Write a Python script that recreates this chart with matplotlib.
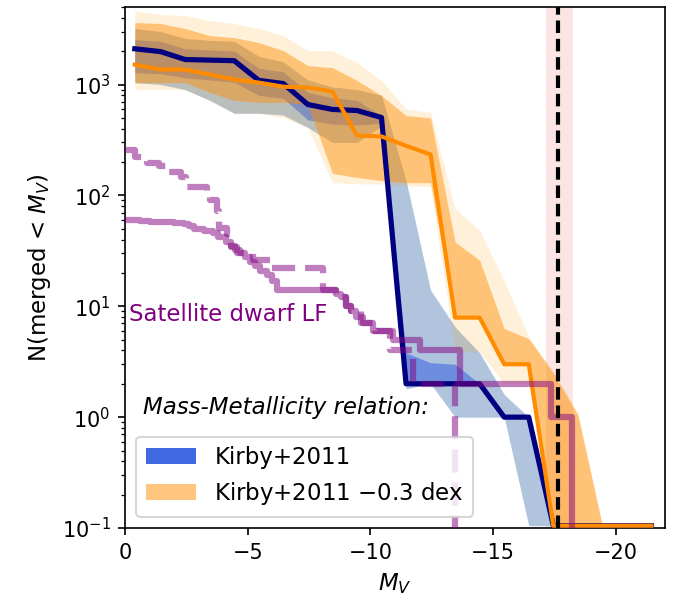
import numpy as np
import matplotlib
matplotlib.use("Agg")
import matplotlib.pyplot as plt
from matplotlib.patches import Patch

# magnitude grid of the merger-tree counts
mv = [-0.4, -1.45, -2.45, -3.45, -4.45, -5.45, -6.45, -7.45, -8.45, -9.45, -10.45,
      -11.45, -12.45, -13.45, -14.45, -15.45, -16.45, -17.45, -18.45, -19.45, -20.45, -21.45]

# Kirby+2011 (median, 68% and 95% ranges)
k11_med = [2100, 1980, 1680, 1660, 1640, 1090, 1020, 660, 596, 583, 504,
           2, 2, 2, 2, 1, 1, 0.105, 0.105, 0.105, 0.105, 0.105]
k11_lo1 = [1280, 1250, 1150, 1100, 1050, 800, 750, 480, 440, 430, 450,
           2, 2, 2, 2, 1, 1, 0.105, 0.105, 0.105, 0.105, 0.105]
k11_hi1 = [2540, 2450, 2100, 2050, 2000, 1400, 1300, 850, 760, 720, 520,
           3.8, 3.1, 3.0, 2, 1, 1, 0.105, 0.105, 0.105, 0.105, 0.105]
k11_lo2 = [1040, 1000, 900, 720, 550, 550, 530, 410, 300, 300, 420,
           1.8, 2, 1, 1, 1, 0.105, 0.105, 0.105, 0.105, 0.105, 0.105]
k11_hi2 = [3200, 3000, 2600, 2500, 2450, 1800, 1600, 1100, 950, 900, 800,
           136, 14, 6.5, 3.8, 1.6, 1.0, 0.105, 0.105, 0.105, 0.105, 0.105]

# Kirby+2011 -0.3 dex
k03_med = [1510, 1365, 1365, 1230, 1110, 1040, 955, 940, 865, 347, 340,
           280, 234, 7.9, 7.9, 3, 3, 0.105, 0.105, 0.105, 0.105, 0.105]
k03_lo1 = [1040, 1040, 1040, 850, 720, 690, 690, 660, 158, 145, 136,
           130, 130, 7.9, 7.9, 3, 3, 0.105, 0.105, 0.105, 0.105, 0.105]
k03_hi1 = [3620, 3550, 3200, 2760, 2650, 2390, 2020, 1480, 1420, 1090, 795,
           525, 500, 38, 26, 6.3, 5.1, 2.5, 1.05, 0.105, 0.105, 0.105]
k03_lo2 = [900, 900, 900, 720, 550, 550, 500, 410, 130, 127, 127,
           122, 120, 3.9, 3.9, 2, 2, 0.105, 0.105, 0.105, 0.105, 0.105]
k03_hi2 = [4650, 4280, 4190, 3770, 3550, 3200, 2760, 2020, 2020, 1580, 1090,
           600, 560, 76, 48, 17, 5.3, 2.6, 1.1, 0.105, 0.105, 0.105]

# satellite luminosity functions (cumulative, step)
lf_mv = [0.0, -0.6, -1.0, -1.5, -2.0, -2.4, -2.6, -2.8, -3.2, -3.6, -3.8, -4.1, -4.3,
         -4.5, -4.7, -4.9, -5.1, -5.3, -5.5, -5.8, -6.0, -6.2, -8.6, -8.8, -9.0,
         -9.2, -9.4, -9.7, -10.1, -10.9, -12.0, -13.65, -17.35, -18.2]
lf_n = [60, 59, 58, 57, 56, 55, 53, 50, 48, 46, 42, 38, 35,
        32, 30, 28, 25, 23, 21, 19, 17, 14, 13, 12, 10,
        9, 8, 7, 6, 5, 4, 2, 1, 0]

lf2_mv = [0.0, -0.4, -0.9, -1.4, -1.75, -2.3, -2.5, -3.35, -3.45, -3.75, -3.85, -4.15,
          -4.3, -4.55, -5.2, -6.0, -8.05, -8.6, -8.8, -9.0, -9.2, -9.6, -10.2, -10.8,
          -11.75, -13.45]
lf2_n = [254, 220, 195, 186, 161, 145, 118, 96, 90, 73, 51, 45,
         34, 30, 26, 22, 14, 13, 12, 10, 9, 7, 6, 4,
         2, 0]

mv_lmc = -17.65
mv_lmc_err = (-17.15, -18.24)

fig = plt.figure(figsize=(676 / 150, 599 / 150), dpi=150)
ax = fig.add_axes([0.1849, 0.1185, 0.7988, 0.8698])
ax.set_yscale('log')

ax.axvspan(mv_lmc_err[0], mv_lmc_err[1], color='tab:red', alpha=0.12, lw=0, zorder=0)

ax.fill_between(mv, k11_lo2, k11_hi2, color='lightsteelblue', lw=0, zorder=1)
ax.fill_between(mv, k11_lo1, k11_hi1, color='royalblue', alpha=0.6, lw=0, zorder=1)
ax.fill_between(mv, k03_lo2, k03_hi2, color='orange', alpha=0.15, lw=0, zorder=2)
ax.fill_between(mv, k03_lo1, k03_hi1, color='darkorange', alpha=0.45, lw=0, zorder=2)

ax.plot(mv, k11_med, color='navy', lw=2.5, zorder=3)
ax.plot(mv, k03_med, color='darkorange', lw=2, zorder=3)

ax.plot(lf_mv, lf_n, drawstyle='steps-post', color='purple', alpha=0.5, lw=3, zorder=4)
ax.plot(lf2_mv, lf2_n, drawstyle='steps-post', color='purple', alpha=0.5, lw=3, ls='--', zorder=4)
ax.text(-0.15, 8.5, 'Satellite dwarf LF', color='purple', fontsize=11, va='center', zorder=5)

ax.axvline(mv_lmc, color='k', ls='--', lw=2, dashes=(3, 1.4), zorder=5)

ax.set_xlim(0, -22)
ax.set_ylim(0.1, 5000)
ax.set_xlabel('$M_V$', fontsize=11)
ax.set_ylabel('N(merged < $M_V$)', fontsize=11)

handles = [Patch(facecolor='royalblue', lw=0), Patch(facecolor='darkorange', alpha=0.5, lw=0)]
ax.legend(handles, ['Kirby+2011', 'Kirby+2011 $-0.3$ dex'], loc='lower left', fontsize=11,
          handlelength=2.2)
ax.text(0.033, 0.232, 'Mass-Metallicity relation:', transform=ax.transAxes,
        fontsize=11, style='italic', va='center')

fig.savefig('out.png', dpi=150)
